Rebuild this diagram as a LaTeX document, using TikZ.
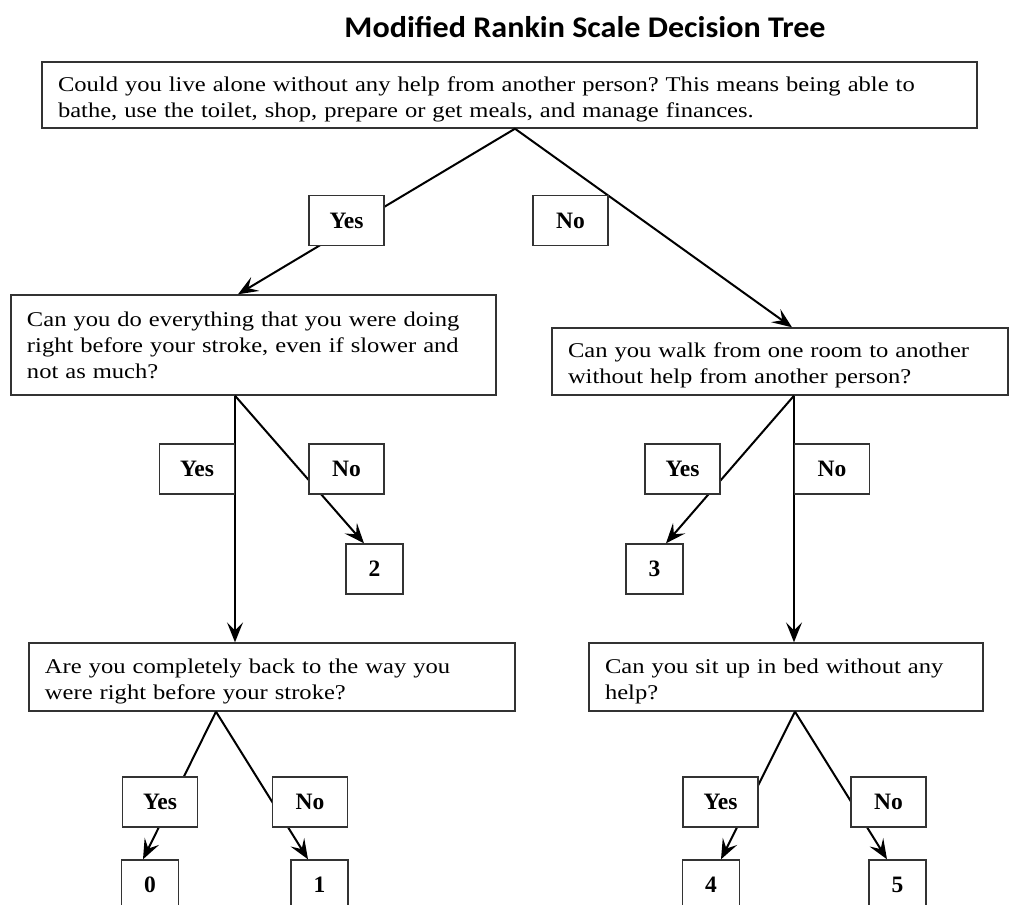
\documentclass[tikz,border=0pt]{standalone}
\usepackage{fontspec}
\setmainfont{Liberation Serif}
\newfontfamily\qfont{Liberation Serif}[FakeStretch=1.17]
\newfontfamily\titlefont{Carlito}[FakeStretch=1.07]
\usetikzlibrary{arrows.meta,calc}
\frenchspacing
\begin{document}
\begin{tikzpicture}[x=1pt,y=-1pt,
  qbox/.style={draw=black!80, line width=1.4pt, fill=white, align=left,
    inner xsep=16pt, inner ysep=0pt, font=\qfont\fontsize{21}{26}\selectfont\frenchspacing},
  qtwo/.style={qbox, execute at begin node={\rule{0pt}{23pt}}},
  lbox/.style={draw=black!80, line width=1.4pt, fill=white, minimum width=75pt,
    minimum height=50pt, inner sep=0pt, font=\fontsize{23.5}{26}\selectfont\bfseries},
  rbox/.style={lbox, minimum width=57pt},
  conn/.style={line width=2pt},
  arr/.style={conn, -{Stealth[length=20pt,width=16pt,inset=8pt]}}]
\clip (0,0) rectangle (1010,905);
\fill[white] (0,0) rectangle (1010,905);
\node[font=\titlefont\bfseries\fontsize{30}{33}\selectfont] (title) at (585,27) {Modified Rankin Scale Decision Tree};
% question boxes
\node[qtwo, text width=903pt, minimum height=66pt] (top) at (509.5,95)
  {Could you live alone without any help from another person? This means being able to\\bathe, use the toilet, shop, prepare or get meals, and manage finances.};
\node[qbox, text width=453pt, minimum height=100pt] (q2L) at (253.5,345)
  {Can you do everything that you were doing\\right before your stroke, even if slower and\\not as much?};
\node[qtwo, text width=424pt, minimum height=67pt] (q2R) at (780,361.5)
  {Can you walk from one room to another\\without help from another person?};
\node[qtwo, text width=454pt, minimum height=68pt] (q3L) at (272,677)
  {Are you completely back to the way you\\were right before your stroke?};
\node[qtwo, text width=362pt, minimum height=68pt] (q3R) at (786,677)
  {Can you sit up in bed without any\\help?};
% result boxes
\node[rbox] (r2) at (374.5,569) {2};
\node[rbox] (r3) at (654.5,569) {3};
\node[rbox] (r0) at (150,885) {0};
\node[rbox] (r1) at (319.5,885) {1};
\node[rbox] (r4) at (711,885) {4};
\node[rbox] (r5) at (897.5,885) {5};
% connectors
\draw[arr] ([xshift=5.5pt]top.south) -- ([xshift=-15.5pt]q2L.north);
\draw[arr] ([xshift=5.5pt]top.south) -- ([xshift=12pt]q2R.north);
\draw[arr] ([xshift=-18.5pt]q2L.south) -- ([xshift=-37pt]q3L.north);
\draw[arr] ([xshift=-18.5pt]q2L.south) -- ([xshift=-10.5pt]r2.north);
\draw[arr] ([xshift=14pt]q2R.south) -- ([xshift=8pt]q3R.north);
\draw[arr] ([xshift=14pt]q2R.south) -- ([xshift=11.5pt]r3.north);
\draw[arr] ([xshift=-56pt]q3L.south) -- ([xshift=-7pt]r0.north);
\draw[arr] ([xshift=-56pt]q3L.south) -- ([xshift=-11.5pt]r1.north);
\draw[arr] ([xshift=9pt]q3R.south) -- ([xshift=10pt]r4.north);
\draw[arr] ([xshift=9pt]q3R.south) -- ([xshift=-10.5pt]r5.north);
% label boxes
\node[lbox] (yA) at (346.5,220.5) {Yes};
\node[lbox] (nA) at (570.5,220.5) {No};
\node[lbox] (yB) at (197,469) {Yes};
\node[lbox] (nB) at (346.5,469) {No};
\node[lbox] (yC) at (682.5,469) {Yes};
\node[lbox] (nC) at (832,469) {No};
\node[lbox] (yD) at (160,802) {Yes};
\node[lbox] (nD) at (310,802) {No};
\node[lbox] (yE) at (720.5,802) {Yes};
\node[lbox] (nE) at (888.5,802) {No};
\end{tikzpicture}
\end{document}
